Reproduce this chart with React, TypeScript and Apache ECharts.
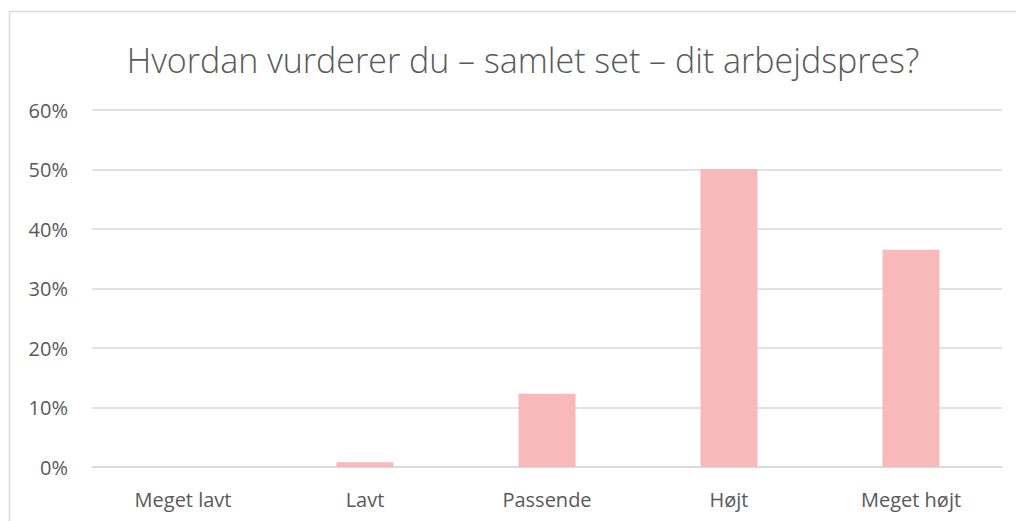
import React, { useEffect, useRef } from "react";
import * as echarts from "echarts";

const categories = ["Meget lavt", "Lavt", "Passende", "Højt", "Meget højt"];
const values = [0, 0.8, 12.3, 50.1, 36.5];
const yTicks = [0, 10, 20, 30, 40, 50, 60];
const titleText = "Hvordan vurderer du – samlet set – dit arbejdspres?";

export default function App() {
  const ref = useRef<HTMLDivElement>(null);
  useEffect(() => {
    if (!ref.current) return;
    const chart = echarts.init(ref.current, undefined, { renderer: "svg" });
    chart.setOption({
      animation: false,
      backgroundColor: "#ffffff",
      title: {
        text: titleText,
        left: 518,
        textAlign: "center",
        top: 38,
        textStyle: {
          fontFamily: "Open Sans",
          fontWeight: 300,
          fontSize: 34,
          color: "#595959",
        },
      },
      graphic: [
        {
          type: "rect",
          shape: { x: 9.5, y: 11.5, width: 1100, height: 600 },
          style: { fill: "none", stroke: "#d9d9d9", lineWidth: 1.5 },
          silent: true,
        },
      ],
      grid: { left: 92, right: 14, top: 110, bottom: 54, containLabel: false },
      xAxis: {
        type: "category",
        data: categories,
        axisLine: { show: true, lineStyle: { color: "#d9d9d9", width: 1.5 } },
        axisTick: { show: false },
        axisLabel: {
          color: "#595959",
          fontFamily: "Open Sans",
          fontSize: 20,
          margin: 22,
        },
      },
      yAxis: {
        type: "value",
        min: yTicks[0],
        max: yTicks[yTicks.length - 1],
        interval: 10,
        axisLine: { show: false },
        axisTick: { show: false },
        splitLine: { lineStyle: { color: "#d9d9d9", width: 1.5 } },
        axisLabel: {
          color: "#595959",
          fontFamily: "Open Sans",
          fontSize: 20,
          margin: 24,
          formatter: (v: number) => `${v}%`,
        },
      },
      series: [
        {
          type: "bar",
          data: values,
          barWidth: 57,
          itemStyle: { color: "#f7b9b9" },
        },
      ],
    });
    return () => chart.dispose();
  }, []);
  return (
    <div
      ref={ref}
      style={{ position: "absolute", left: 0, top: 0, width: 1016, height: 521 }}
    />
  );
}
